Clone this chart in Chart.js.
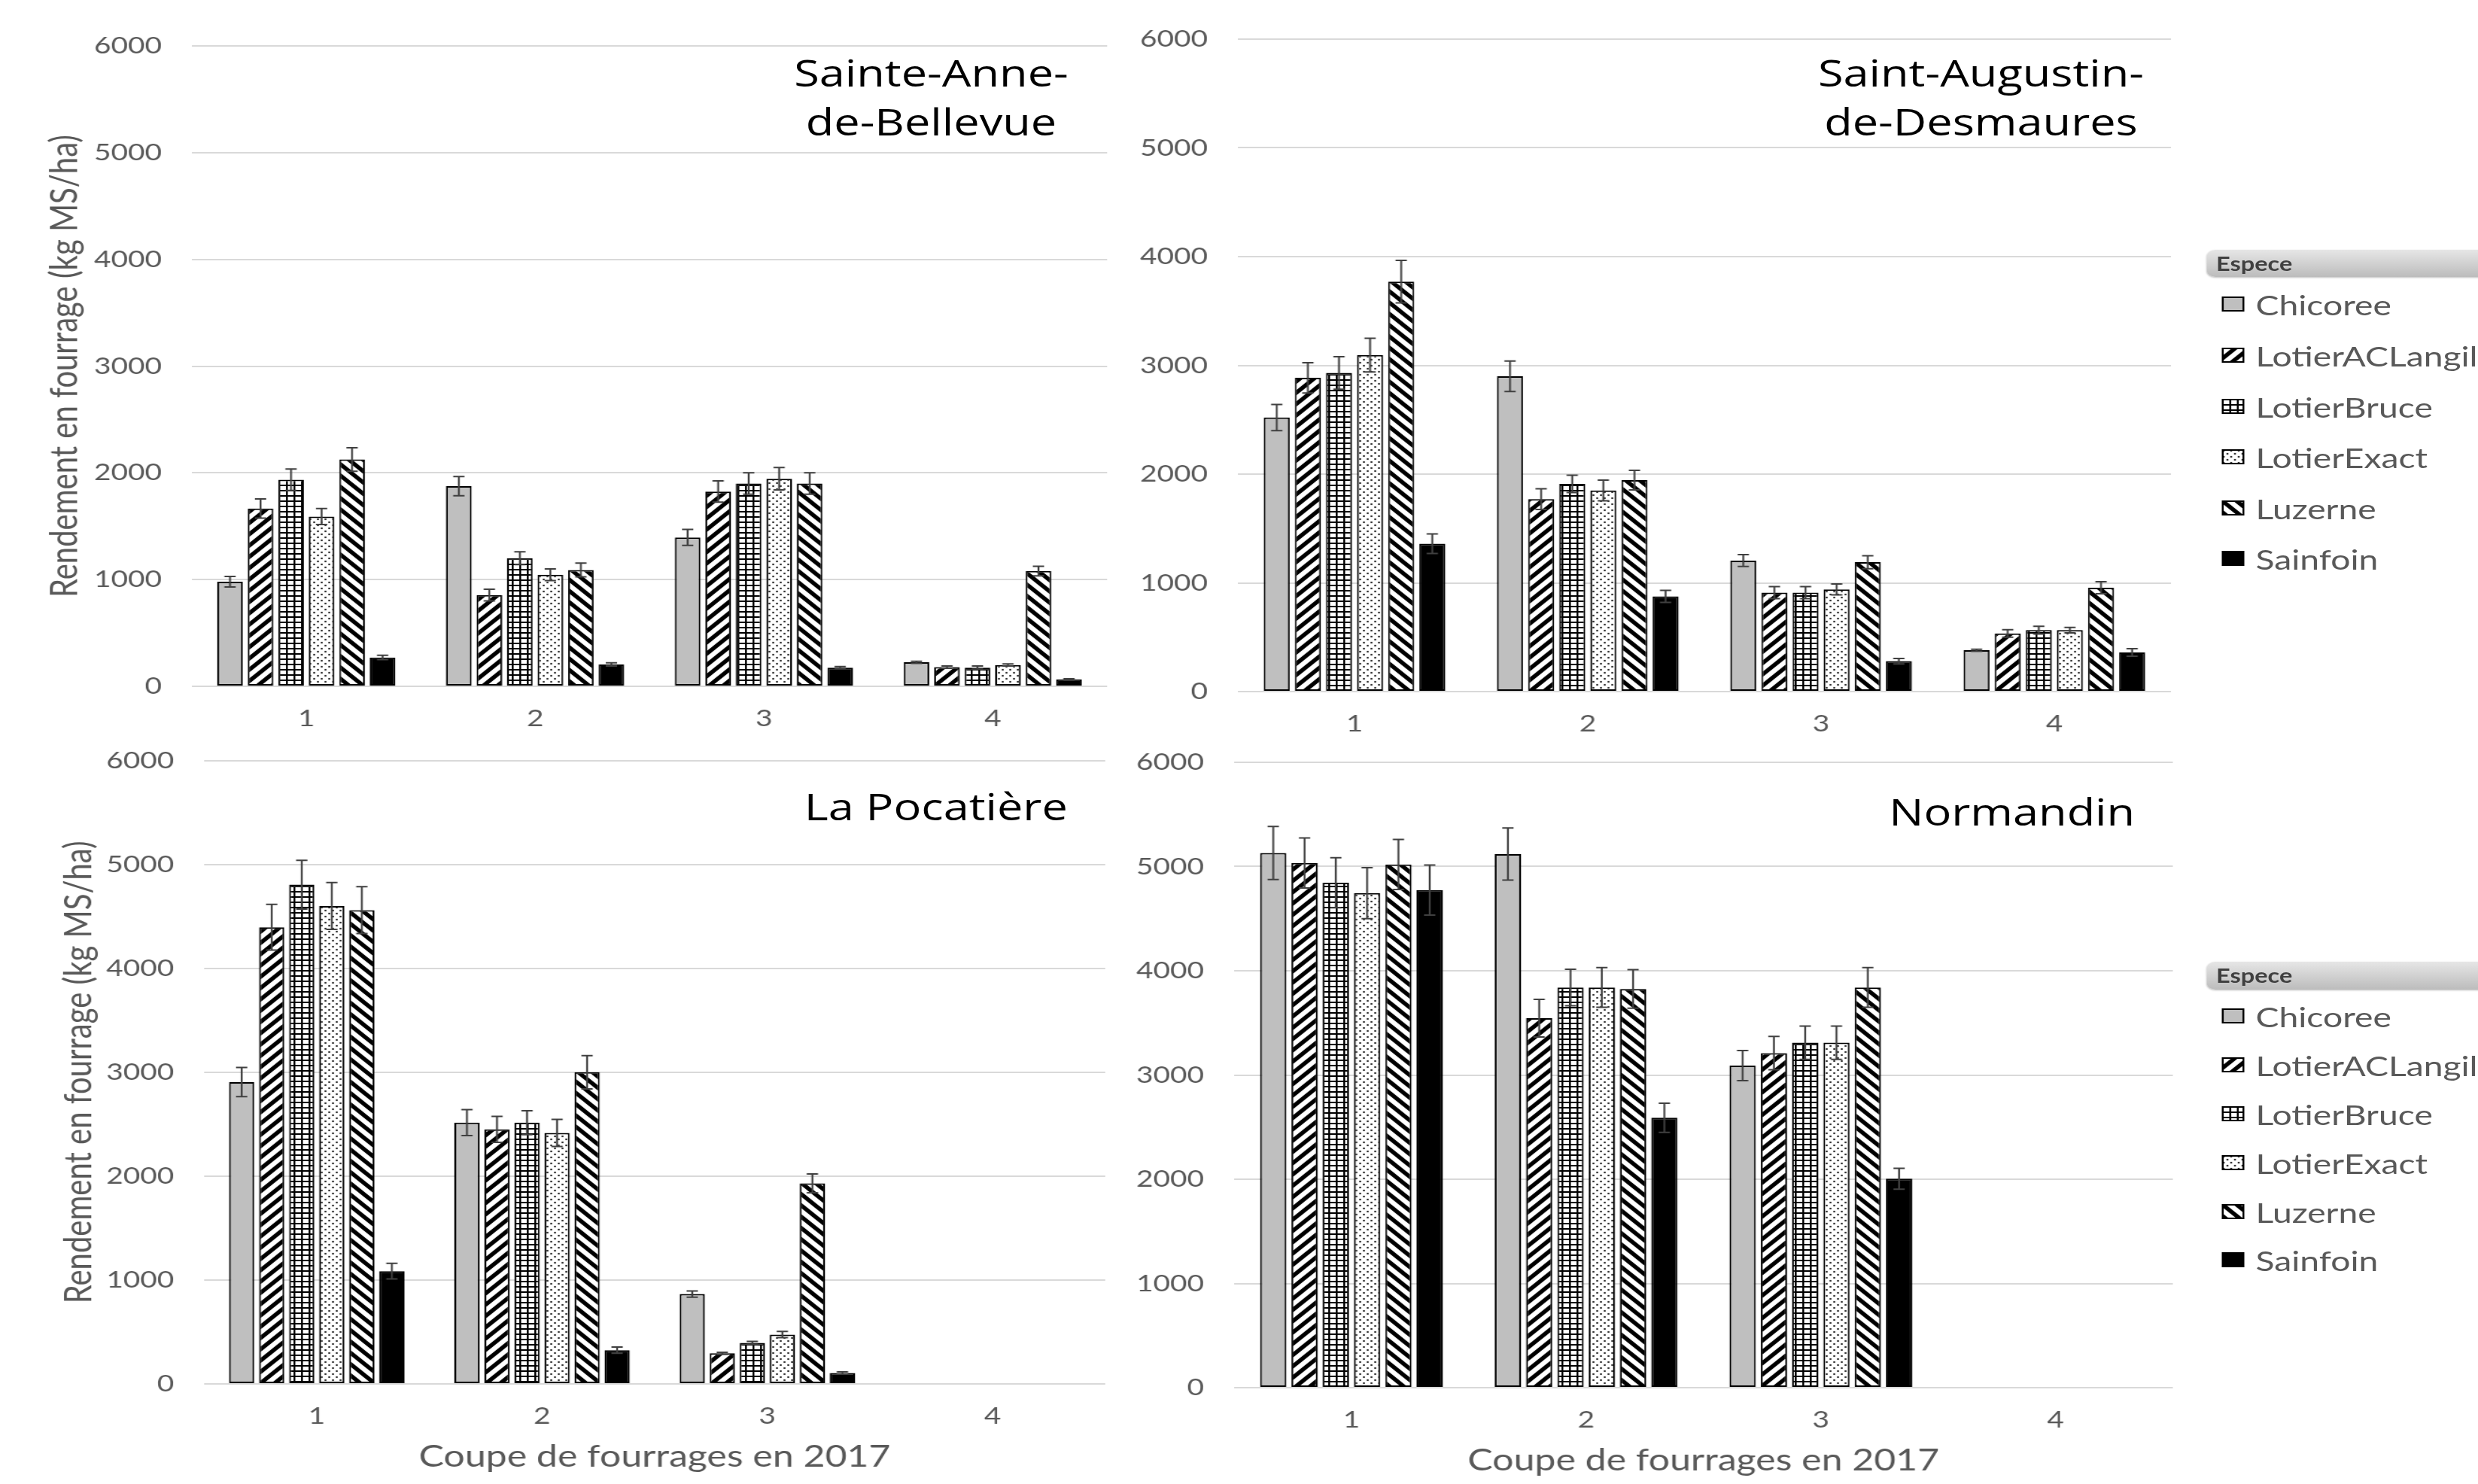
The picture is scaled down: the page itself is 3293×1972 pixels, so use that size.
<!DOCTYPE html>
<html lang="fr">
<head>
<meta charset="utf-8">
<title>Rendement en fourrage 2017</title>
<script src="https://cdn.jsdelivr.net/npm/chart.js@4.4.1/dist/chart.umd.min.js"></script>
<style>
  html, body { margin: 0; padding: 0; width: 3293px; height: 1972px; overflow: hidden; background: #fff; }
  /* la figure d'origine est étirée horizontalement : on la compose à 1/1.25 puis on l'élargit */
  #stage { position: absolute; left: 0; top: 0; width: 2635px; height: 1972px; transform-origin: 0 0; transform: scaleX(1.25); }
  #stage canvas { position: absolute; }
  .site { position: absolute; width: 600px; font-family: 'Open Sans'; font-size: 49px; line-height: 65px; color: #000; text-align: center; white-space: nowrap; }
  .lg-head { position: absolute; left: 2346px; width: 420px; border-radius: 9px 0 0 9px; background: linear-gradient(#e6e6e6, #bcbcbc); box-shadow: 0 1px 2px rgba(0,0,0,.25);
             font-family: Lato; font-weight: 700; font-size: 26px; color: #404040; padding-left: 10px; box-sizing: border-box; }
  .lg-item { position: absolute; left: 2362px; height: 40px; display: flex; align-items: center; white-space: nowrap;
             font-family: Lato; font-size: 37px; color: #595959; }
  .lg-item canvas { position: static !important; margin-right: 12px; }
</style>
</head>
<body>
<div id="stage">
  <canvas id="cTL"></canvas>
  <canvas id="cTR"></canvas>
  <canvas id="cBL"></canvas>
  <canvas id="cBR"></canvas>
  <div class="site" style="left:690px;top:64px">Sainte-Anne-<br>de-Bellevue</div>
  <div class="site" style="left:1806px;top:64px">Saint-Augustin-<br>de-Desmaures</div>
  <div class="site" style="left:695px;top:1039px">La Pocatière</div>
  <div class="site" style="left:1839px;top:1046px">Normandin</div>
</div>
<script>
// ── Données (kg MS/ha), lignes = espèces, colonnes = coupes 1..4 ─────────

const categories = ['1', '2', '3', '4'];
const species = ['Chicoree', 'LotierACLangille', 'LotierBruce', 'LotierExact', 'Luzerne', 'Sainfoin'];
const yMax = 6000;
const yStep = 1000;

const steAnneYield = [
    [980, 1875, 1395, 225],
    [1665, 855, 1825, 180],
    [1935, 1200, 1900, 175],
    [1590, 1045, 1945, 200],
    [2125, 1090, 1900, 1080],
    [270, 205, 175, 65],
];
const steAnneErr = [
    [50, 90, 75, 10],
    [90, 55, 100, 10],
    [100, 60, 100, 15],
    [75, 55, 105, 10],
    [110, 65, 100, 45],
    [20, 15, 10, 5],
];

const stAugustinYield = [
    [2520, 2900, 1205, 380],
    [2885, 1770, 910, 535],
    [2930, 1910, 910, 565],
    [3095, 1850, 940, 565],
    [3770, 1945, 1190, 955],
    [1360, 875, 280, 360],
];
const stAugustinErr = [
    [120, 140, 55, 10],
    [140, 95, 55, 35],
    [150, 80, 55, 35],
    [155, 95, 50, 25],
    [195, 90, 60, 55],
    [90, 55, 25, 35],
];

const pocatiereYield = [
    [2905, 2515, 865, null],
    [4395, 2450, 295, null],
    [4805, 2515, 395, null],
    [4600, 2415, 475, null],
    [4560, 3000, 1930, null],
    [1085, 325, 105, null],
];
const pocatiereErr = [
    [140, 125, 30, null],
    [220, 125, 10, null],
    [235, 115, 15, null],
    [225, 130, 30, null],
    [225, 160, 90, null],
    [75, 30, 10, null],
];

const normandinYield = [
    [5130, 5120, 3090, null],
    [5035, 3545, 3210, null],
    [4845, 3840, 3310, null],
    [4745, 3840, 3310, null],
    [5020, 3825, 3840, null],
    [4775, 2590, 2005, null],
];
const normandinErr = [
    [255, 250, 145, null],
    [240, 180, 160, null],
    [240, 175, 160, null],
    [245, 190, 160, null],
    [240, 185, 190, null],
    [240, 140, 100, null],
];

// ── Motifs de remplissage (style Excel) ──────────────────────────────────

function tile(w, h, draw) {
    const c = document.createElement('canvas');
    c.width = w; c.height = h;
    const g = c.getContext('2d');
    g.fillStyle = '#fff';
    g.fillRect(0, 0, w, h);
    draw(g, w, h);
    return c;
}

function diagTile(forward) {
    const P = 15;
    return tile(P, P, g => {
        g.strokeStyle = '#000';
        g.lineWidth = 5;
        g.beginPath();
        if (forward) {
            g.moveTo(0, P); g.lineTo(P, 0);
            g.moveTo(-P / 2, P / 2); g.lineTo(P / 2, -P / 2);
            g.moveTo(P / 2, P * 1.5); g.lineTo(P * 1.5, P / 2);
        } else {
            g.moveTo(0, 0); g.lineTo(P, P);
            g.moveTo(-P / 2, P / 2); g.lineTo(P / 2, P * 1.5);
            g.moveTo(P / 2, -P / 2); g.lineTo(P * 1.5, P / 2);
        }
        g.stroke();
    });
}

const gridTile = tile(8, 7, g => {
    g.fillStyle = '#000';
    g.fillRect(0, 0, 2, 7);
    g.fillRect(0, 0, 8, 2);
});

const dotTile = tile(8, 8, g => {
    g.fillStyle = '#333';
    [[2, 2], [6, 6]].forEach(([x, y]) => { g.beginPath(); g.arc(x, y, 1.2, 0, Math.PI * 2); g.fill(); });
});

const pctx = document.createElement('canvas').getContext('2d');
const fills = [
    '#bfbfbf',
    pctx.createPattern(diagTile(true), 'repeat'),
    pctx.createPattern(gridTile, 'repeat'),
    pctx.createPattern(dotTile, 'repeat'),
    pctx.createPattern(diagTile(false), 'repeat'),
    '#000',
];

// ── Barres d'erreur ──────────────────────────────────────────────────────

const errorBars = {
    id: 'errorBars',
    afterDatasetsDraw(chart) {
        const { ctx } = chart;
        const y = chart.scales.y;
        ctx.save();
        ctx.strokeStyle = '#404040';
        ctx.lineWidth = 2;
        chart.data.datasets.forEach((ds, i) => {
            chart.getDatasetMeta(i).data.forEach((bar, j) => {
                const v = ds.data[j], e = ds.errors[j];
                if (v == null || e == null) return;
                const yt = y.getPixelForValue(v + e);
                const yb = y.getPixelForValue(v - e);
                ctx.beginPath();
                ctx.moveTo(bar.x, yt); ctx.lineTo(bar.x, yb);
                ctx.moveTo(bar.x - 6, yt); ctx.lineTo(bar.x + 6, yt);
                ctx.moveTo(bar.x - 6, yb); ctx.lineTo(bar.x + 6, yb);
                ctx.stroke();
            });
        });
        ctx.restore();
    },
};

// ── Panneaux ─────────────────────────────────────────────────────────────

const TICK_FONT = { family: 'Lato', size: 31 };
const AXIS_FONT = { family: 'Lato', size: 40 };
const GRAY = '#595959';

function drawPanel(id, yieldRows, errRows, box) {
    const canvas = document.getElementById(id);
    canvas.width = box.w; canvas.height = box.h;
    canvas.style.left = box.left + 'px';
    canvas.style.top = box.top + 'px';

    const datasets = species.map((name, i) => ({
        label: name,
        data: yieldRows[i],
        errors: errRows[i],
        backgroundColor: fills[i],
        borderColor: '#000',
        borderWidth: 2,
        borderSkipped: false,
        categoryPercentage: 0.8,
        barPercentage: 0.84,
    }));

    new Chart(canvas, {
        type: 'bar',
        data: { labels: categories, datasets },
        plugins: [errorBars],
        options: {
            responsive: false,
            animation: false,
            devicePixelRatio: 1,
            layout: { padding: { left: 0, top: box.plotT - box.top, right: box.left + box.w - box.plotR, bottom: 0 } },
            plugins: { legend: { display: false }, tooltip: { enabled: false } },
            scales: {
                x: {
                    grid: { display: false },
                    border: { display: false },
                    ticks: { font: TICK_FONT, color: GRAY, padding: 16 },
                    title: {
                        display: !!box.xTitle,
                        text: 'Coupe de fourrages en 2017',
                        font: AXIS_FONT, color: GRAY,
                        padding: { top: 0, bottom: box.xTitle || 0 },
                    },
                    afterFit: s => { s.height = box.top + box.h - box.plotB; },
                },
                y: {
                    min: 0, max: yMax,
                    grid: { color: '#d9d9d9', lineWidth: 2, drawTicks: false },
                    border: { display: false },
                    ticks: { stepSize: yStep, font: TICK_FONT, color: GRAY, padding: 32, callback: v => String(v) },
                    title: {
                        display: !!box.yTitle,
                        text: 'Rendement en fourrage (kg MS/ha)',
                        font: AXIS_FONT, color: GRAY,
                        padding: { top: box.yTitle || 0, bottom: 0 },
                    },
                    afterFit: s => { s.width = box.plotL - box.left; },
                },
            },
        },
    });
}

drawPanel('cTL', steAnneYield, steAnneErr,
    { left: 0, top: 0, w: 1240, h: 992, plotL: 204, plotT: 61, plotR: 1177, plotB: 912, yTitle: 45 });
drawPanel('cTR', stAugustinYield, stAugustinErr,
    { left: 1180, top: 0, w: 1150, h: 999, plotL: 1316, plotT: 52, plotR: 2308, plotB: 919 });
drawPanel('cBL', pocatiereYield, pocatiereErr,
    { left: 0, top: 960, w: 1240, h: 1012, plotL: 217, plotT: 1003, plotR: 1175, plotB: 1839, yTitle: 60, xTitle: 12 });
drawPanel('cBR', normandinYield, normandinErr,
    { left: 1180, top: 960, w: 1150, h: 1012, plotL: 1312, plotT: 1013, plotR: 2310, plotB: 1844, xTitle: 7 });

// ── Légendes « Espece » ──────────────────────────────────────────────────

function swatch(i) {
    const c = document.createElement('canvas');
    c.width = 24; c.height = 20;
    const g = c.getContext('2d');
    g.fillStyle = fills[i];
    g.fillRect(0, 0, 24, 20);
    g.strokeStyle = '#000';
    g.lineWidth = 2;
    g.strokeRect(1, 1, 22, 18);
    return c;
}

function buildLegend(headTop, headH, itemCenters) {
    const stage = document.getElementById('stage');
    const head = document.createElement('div');
    head.className = 'lg-head';
    head.style.top = headTop + 'px';
    head.style.height = headH + 'px';
    head.style.lineHeight = headH + 'px';
    head.textContent = 'Espece';
    stage.appendChild(head);
    species.forEach((name, i) => {
        const item = document.createElement('div');
        item.className = 'lg-item';
        item.style.top = (itemCenters[i] - 20) + 'px';
        item.appendChild(swatch(i));
        item.appendChild(document.createTextNode(name));
        stage.appendChild(item);
    });
}

buildLegend(332, 36, [404, 472, 540, 607, 675, 742]);
buildLegend(1278, 37, [1350, 1415, 1480, 1545, 1610, 1674]);
</script>
</body>
</html>
